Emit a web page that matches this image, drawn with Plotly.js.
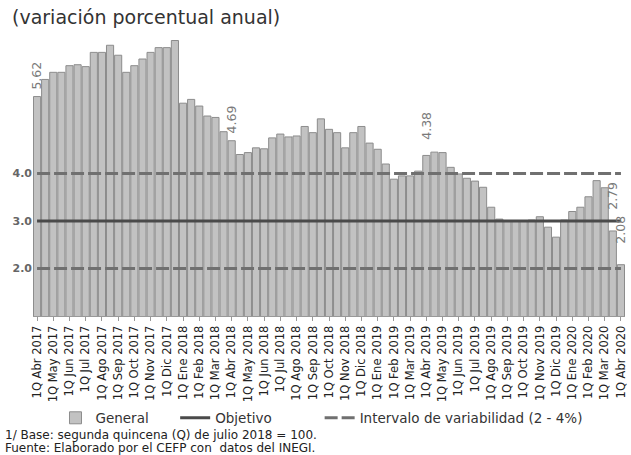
<!DOCTYPE html>
<html>
<head>
<meta charset="utf-8">
<script src="https://cdn.plot.ly/plotly-3.0.1.min.js"></script>
<style>
html,body{margin:0;padding:0;background:#fff;}
#chart{width:631px;height:455px;}
</style>
</head>
<body>
<div id="chart"></div>
<script>
// Tick labels (first fortnight of each month)
const ticks = [
  "1Q Abr 2017","1Q May 2017","1Q Jun 2017","1Q Jul 2017","1Q Ago 2017","1Q Sep 2017",
  "1Q Oct 2017","1Q Nov 2017","1Q Dic 2017","1Q Ene 2018","1Q Feb 2018","1Q Mar 2018",
  "1Q Abr 2018","1Q May 2018","1Q Jun 2018","1Q Jul 2018","1Q Ago 2018","1Q Sep 2018",
  "1Q Oct 2018","1Q Nov 2018","1Q Dic 2018","1Q Ene 2019","1Q Feb 2019","1Q Mar 2019",
  "1Q Abr 2019","1Q May 2019","1Q Jun 2019","1Q Jul 2019","1Q Ago 2019","1Q Sep 2019",
  "1Q Oct 2019","1Q Nov 2019","1Q Dic 2019","1Q Ene 2020","1Q Feb 2020","1Q Mar 2020",
  "1Q Abr 2020"
];
// General inflation by fortnight (annual % change)
const general = [
  5.62,5.98,6.13,6.13,6.27,6.29,6.25,6.55,6.55,6.70,6.49,6.13,6.27,6.41,6.55,6.65,6.65,6.80,
  5.48,5.56,5.42,5.21,5.18,4.88,4.69,4.40,4.44,4.54,4.52,4.75,4.83,4.77,4.79,4.99,4.86,5.15,
  4.93,4.86,4.54,4.86,4.99,4.64,4.51,4.20,3.88,3.95,3.95,4.05,4.38,4.45,4.44,4.13,3.99,3.90,
  3.84,3.71,3.29,3.04,3.00,3.00,3.00,3.02,3.09,2.87,2.66,3.02,3.20,3.29,3.51,3.85,3.70,2.79,
  2.08
];
const objetivo = [3.0, 3.0];
const intervalo = [4.0, 2.0];
const labeledIdx = [0, 24, 48, 71, 72];

// Categories: 1Q and 2Q of each month, ending at 1Q Abr 2020
const categories = [];
ticks.forEach((t, i) => {
  categories.push(t);
  if (i < ticks.length - 1) categories.push(t.replace("1Q", "2Q"));
});

const first = categories[0], last = categories[categories.length - 1];
const labelShift = [5, 5, 14, 19, 19];
const NB = "\u00a0";

const traces = [
  {
    type: "bar", name: "General" + NB.repeat(5), x: categories, y: general,
    marker: {color: "#c2c2c2", line: {color: "#8c8c8c", width: 1}},
    hoverinfo: "x+y"
  },
  {
    type: "scatter", mode: "lines", name: "Objetivo" + NB.repeat(10),
    x: [first, last], y: objetivo,
    line: {color: "#4a4a4a", width: 3}
  },
  {
    type: "scatter", mode: "lines", name: "Intervalo de variabilidad (2 - 4%)",
    x: [first, last, null, first, last],
    y: [intervalo[0], intervalo[0], null, intervalo[1], intervalo[1]],
    connectgaps: false,
    line: {color: "#707070", width: 3, dash: "13px,4px"}
  }
];

const valueLabels = labeledIdx.map((idx, k) => ({
  x: categories[idx], y: general[idx], xref: "x", yref: "y",
  text: general[idx].toFixed(2), textangle: -90, showarrow: false,
  xanchor: "center", yanchor: "bottom", yshift: labelShift[k],
  font: {family: "DejaVu Sans", size: 12.5, color: "#7a7a7a"}
}));

const layout = {
  width: 631, height: 455,
  margin: {l: 33, r: 6, t: 31, b: 139},
  paper_bgcolor: "#fff", plot_bgcolor: "#fff",
  font: {family: "DejaVu Sans", color: "#333"},
  title: {
    text: "(variación porcentual anual)",
    x: 12/631, xanchor: "left", xref: "container",
    y: 1 - 17/455, yanchor: "middle", yref: "container",
    font: {family: "DejaVu Sans", size: 19, color: "#333"}
  },
  bargap: 0.12,
  showlegend: true,
  legend: {
    orientation: "h", x: 0.038, xanchor: "left", y: -0.358, yanchor: "middle",
    font: {family: "DejaVu Sans", size: 13.5, color: "#333"},
    traceorder: "normal"
  },
  xaxis: {
    type: "category", tickmode: "array", tickvals: ticks, ticktext: ticks,
    tickangle: -90, tickfont: {family: "DejaVu Sans", size: 11.5, color: "#222"},
    showline: true, linecolor: "#999", linewidth: 1,
    ticks: "outside", ticklen: 4, tickcolor: "#999",
    showgrid: false, range: [-0.5, categories.length - 0.5]
  },
  yaxis: {
    range: [1, 7], tickmode: "array", tickvals: [2, 3, 4], ticktext: ["2.0", "3.0", "4.0"],
    tickfont: {family: "DejaVu Sans", size: 11, color: "#666", weight: "bold"},
    showgrid: false, zeroline: false, showline: false, ticks: ""
  },
  annotations: valueLabels.concat([
    {xref: "paper", yref: "paper", x: -30/592, y: -(435 - 316)/285, xanchor: "left", yanchor: "middle",
     showarrow: false, align: "left",
     text: "1/ Base: segunda quincena (Q) de julio 2018 = 100.",
     font: {family: "DejaVu Sans", size: 12, color: "#222"}},
    {xref: "paper", yref: "paper", x: -30/592, y: -(448 - 316)/285, xanchor: "left", yanchor: "middle",
     showarrow: false, align: "left",
     text: "Fuente: Elaborado por el CEFP con  datos del INEGI.",
     font: {family: "DejaVu Sans", size: 12, color: "#222"}}
  ])
};

Plotly.newPlot("chart", traces, layout, {displayModeBar: false, staticPlot: true});
</script>
</body>
</html>
